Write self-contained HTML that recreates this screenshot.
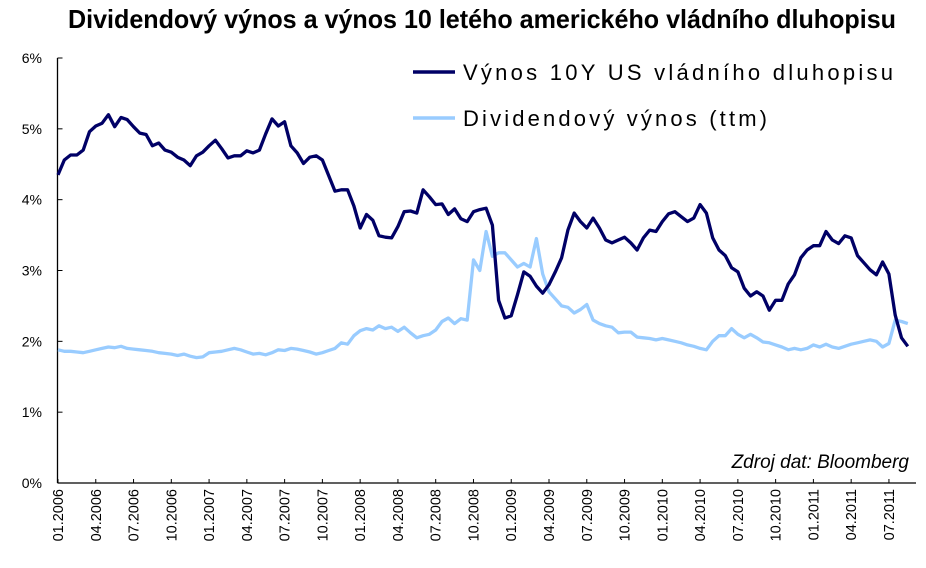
<!DOCTYPE html>
<html><head><meta charset="utf-8"><style>
html,body{margin:0;padding:0;background:#fff;}
svg{display:block;font-family:"Liberation Sans",Arial,sans-serif;}
</style></head><body>
<svg id="chart" width="926" height="568" viewBox="0 0 926 568">
<text x="482" y="28" text-anchor="middle" font-size="26" font-weight="bold" textLength="828" lengthAdjust="spacingAndGlyphs" fill="#000">Dividendový výnos a výnos 10 letého amerického vládního dluhopisu</text>
<g id="yaxis"></g>
<g id="xaxis"></g>
<g id="series"></g>
<g>
<line x1="413" y1="72" x2="455" y2="72" stroke="#000066" stroke-width="3.5"/>
<text x="463" y="80" font-size="22" textLength="430" lengthAdjust="spacing" fill="#000">Výnos 10Y US vládního dluhopisu</text>
<line x1="413" y1="118" x2="455" y2="118" stroke="#99CCFF" stroke-width="3.5"/>
<text x="463" y="126" font-size="22" textLength="304" lengthAdjust="spacing" fill="#000">Dividendový výnos (ttm)</text>
</g>
<text x="909" y="468" text-anchor="end" font-size="19" font-style="italic" fill="#000">Zdroj dat: Bloomberg</text>
</svg>
<script>
const yTicks = [0,1,2,3,4,5,6];
const xLabels = ["01.2006","04.2006","07.2006","10.2006","01.2007","04.2007","07.2007","10.2007","01.2008","04.2008","07.2008","10.2008","01.2009","04.2009","07.2009","10.2009","01.2010","04.2010","07.2010","10.2010","01.2011","04.2011","07.2011"];
const treasury = [4.35,4.56,4.63,4.63,4.70,4.96,5.04,5.08,5.20,5.03,5.16,5.13,5.03,4.94,4.92,4.76,4.80,4.70,4.67,4.60,4.56,4.48,4.62,4.67,4.76,4.84,4.72,4.59,4.62,4.62,4.69,4.66,4.70,4.93,5.14,5.04,5.10,4.76,4.66,4.51,4.60,4.62,4.56,4.34,4.12,4.14,4.14,3.91,3.60,3.79,3.71,3.49,3.47,3.46,3.62,3.83,3.84,3.81,4.14,4.04,3.93,3.94,3.79,3.87,3.73,3.69,3.83,3.86,3.88,3.64,2.58,2.33,2.36,2.66,2.98,2.92,2.78,2.68,2.80,2.98,3.18,3.57,3.81,3.69,3.60,3.74,3.60,3.43,3.39,3.43,3.47,3.39,3.29,3.46,3.57,3.55,3.69,3.80,3.83,3.76,3.69,3.74,3.93,3.81,3.46,3.29,3.21,3.04,2.98,2.75,2.64,2.70,2.64,2.44,2.58,2.58,2.81,2.94,3.18,3.29,3.35,3.35,3.55,3.43,3.38,3.49,3.46,3.21,3.11,3.01,2.94,3.12,2.95,2.37,2.05,1.93];
const dividend = [1.88,1.86,1.86,1.85,1.84,1.86,1.88,1.90,1.92,1.91,1.93,1.90,1.89,1.88,1.87,1.86,1.84,1.83,1.82,1.80,1.82,1.79,1.77,1.78,1.84,1.85,1.86,1.88,1.90,1.88,1.85,1.82,1.83,1.81,1.84,1.88,1.87,1.90,1.89,1.87,1.85,1.82,1.84,1.87,1.90,1.98,1.96,2.08,2.15,2.18,2.16,2.22,2.18,2.20,2.14,2.20,2.12,2.05,2.08,2.10,2.16,2.28,2.33,2.25,2.32,2.30,3.15,3.00,3.55,3.20,3.25,3.25,3.15,3.05,3.10,3.05,3.45,2.95,2.70,2.60,2.50,2.48,2.40,2.45,2.52,2.30,2.25,2.22,2.20,2.12,2.13,2.13,2.06,2.05,2.04,2.02,2.04,2.02,2.00,1.98,1.95,1.93,1.90,1.88,2.00,2.08,2.08,2.18,2.10,2.05,2.10,2.05,1.99,1.98,1.95,1.92,1.88,1.90,1.88,1.90,1.95,1.92,1.96,1.92,1.90,1.93,1.96,1.98,2.00,2.02,2.00,1.92,1.97,2.30,2.28,2.25];

const NS="http://www.w3.org/2000/svg";
const X0=57.5, Y0=483, X1=916, YTOP=58;
const halfMonthPx = 6.295;
function yScale(v){return Y0 - (v/6)*(Y0-YTOP);}
function xIdx(i){return 58 + i*halfMonthPx;}
function xLabel(q){return 58 + q*3*2*halfMonthPx;}
function mk(tag,attrs,parent){const e=document.createElementNS(NS,tag);for(const k in attrs)e.setAttribute(k,attrs[k]);parent.appendChild(e);return e;}

const ya=document.getElementById('yaxis');
const axY=mk('line',{x1:X0,y1:YTOP,x2:X0,y2:Y0,stroke:'#000','stroke-width':1.3},ya);


yTicks.forEach(t=>{
  const y=yScale(t);
  const tk=mk('line',{x1:X0,y1:y,x2:X0+5,y2:y,stroke:'#000','stroke-width':1},ya);
  
  
  const tx=mk('text',{x:42,y:y+5,'text-anchor':'end','font-size':14,fill:'#000'},ya);
  tx.textContent=t+'%';
  
  
});
const xa=document.getElementById('xaxis');
const axX=mk('line',{x1:X0,y1:Y0,x2:X1,y2:Y0,stroke:'#000','stroke-width':1.3},xa);


xLabels.forEach((l,q)=>{
  const x=xLabel(q);
  const tk=mk('line',{x1:x,y1:Y0,x2:x,y2:Y0-4,stroke:'#000','stroke-width':1},xa);
  
  
  const tx=mk('text',{x:0,y:0,'text-anchor':'end','font-size':14.5,fill:'#000',transform:`translate(${x+5},${Y0+6}) rotate(-90)`},xa);
  tx.textContent=l;
  
  
});
const sg=document.getElementById('series');
function line(data,color,name){
  const d=data.map((v,i)=>(i?'L':'M')+xIdx(i).toFixed(1)+','+yScale(v).toFixed(1)).join(' ');
  const p=mk('path',{d:d,fill:'none',stroke:color,'stroke-width':3.3,'stroke-linejoin':'round'},sg);
  
  
}
line(dividend,'#99CCFF','dividend-yield-line');
line(treasury,'#000066','treasury-yield-line');
</script>
</body></html>
